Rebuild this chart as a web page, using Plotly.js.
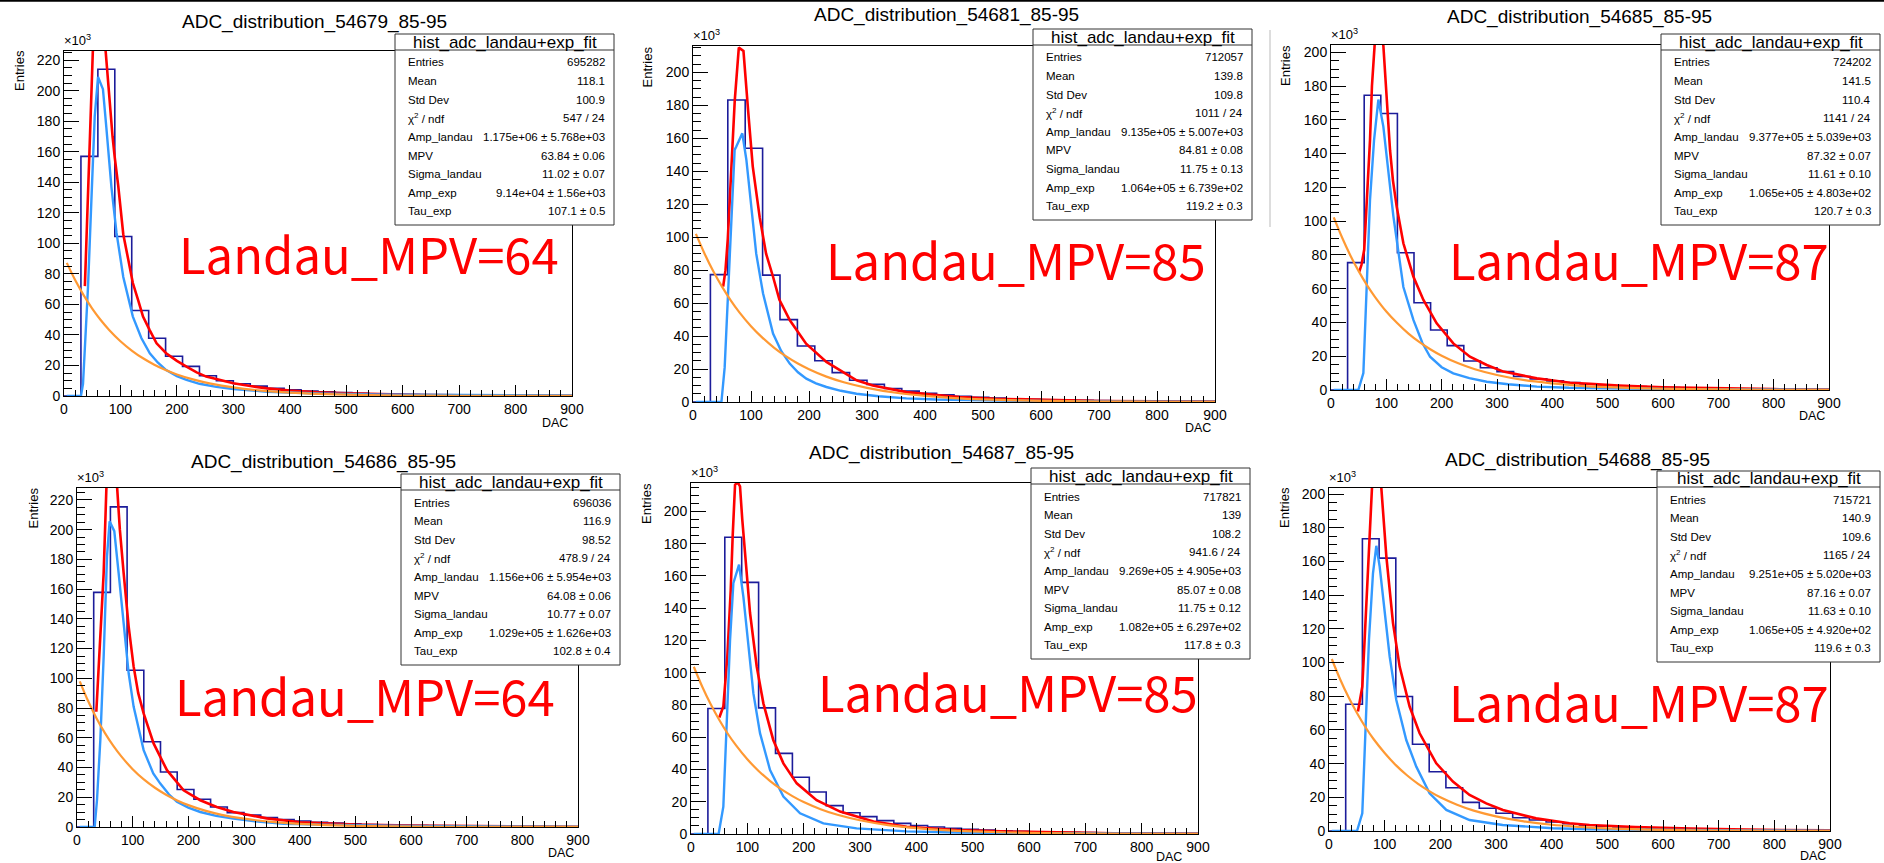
<!DOCTYPE html>
<html><head><meta charset="utf-8">
<script src="https://cdn.plot.ly/plotly-3.0.1.min.js"></script>
<style>html,body{margin:0;padding:0;background:#fff;overflow:hidden}#chart{width:1884px;height:863px}</style>
</head><body><div id="chart"></div>
<script>
// ---------------- DATA (values in units of 10^3 entries) ----------------
const binEdges = [0,30,60,90,120,150,180,210,240,270,300,330,360,390,420,450,480,510,540,570,600,630,660,690,720,750,780,810,840,870,900];
const runs = ['54679','54681','54685','54686','54687','54688'];

const hist_54679 = [0,157,214,104.5,56,37.8,26,19.4,13.3,10,8,6.5,5,4,3.3,2.7,2.2,1.8,1.5,1.2,1.0,0.8,0.7,0.55,0.45,0.4,0.3,0.25,0.2,0.15];
const hist_54681 = [0,77.3,183.2,154,77,50,34,25,17.8,13.2,10.7,8.2,6.6,5.3,4.3,3.5,2.9,2.4,2.0,1.7,1.4,1.2,1.0,0.85,0.7,0.6,0.5,0.45,0.4,0.35];
const hist_54685 = [0,75.4,174.5,163.7,81.3,51.7,35.5,26.3,17.2,13.2,10.9,8,6.6,5.4,4.4,3.6,3.0,2.5,2.0,1.7,1.4,1.2,1.0,0.85,0.7,0.6,0.5,0.45,0.4,0.35];
const hist_54686 = [0,157.8,215.3,105.4,57.3,37,25.2,18.7,13.5,9.7,8,6.4,5,4,3.2,2.6,2.1,1.7,1.4,1.15,0.95,0.8,0.65,0.55,0.45,0.38,0.3,0.25,0.2,0.15];
const hist_54687 = [0,77.8,184,156,78.2,50,35.2,26,17.6,13.2,10.8,8.3,6.6,5.3,4.3,3.5,2.9,2.4,2.0,1.7,1.4,1.2,1.0,0.85,0.7,0.6,0.5,0.45,0.4,0.35];
const hist_54688 = [0,75.2,173.5,162,79.8,51.5,35.2,25.7,17,13.5,10.5,7.9,6.5,5.3,4.3,3.5,2.9,2.4,2.0,1.7,1.4,1.2,1.0,0.85,0.7,0.6,0.5,0.45,0.4,0.35];

// total fit (landau + exp), red
const total_54679_x = [37,42,46,51,56,62,68,74,80,86,90,96,105,113,122,132,140,152,164,181,200,217,235,252,275,300,330,360,400,450,500,560,620,700,800,900];
const total_54679_y = [72,120,170,225,255,262,250,225,195,170,156,138,106,90,74,62,52,43,34.5,28,23,19.2,15.5,12.7,10.5,8.3,6.5,5,3.6,2.4,1.7,1.1,0.75,0.45,0.25,0.15];
const total_54681_x = [52,56,60,66,72,79,84,87,95,103,115,126,138,149,167,195,230,253,282,310,368,425,460,520,600,700,800,900];
const total_54681_y = [70,80,99,143,183,215,214,213,177,143,112,90,76,62,49.6,35.4,24.3,19.2,13.2,10,6,4,3,2,1.2,0.65,0.35,0.2];
const total_54685_x = [51,55,60,64.5,70.5,74,78,82,86,90,94.6,100,106.7,112,118.7,130.8,149,167,191,221,251,281.5,311.6,372,432,468,520,600,700,800,900];
const total_54685_y = [70,74,83,112.5,148,180,207,220,222,218,204,175,142,124,108.6,86.9,67,53.3,39.5,27.6,19.7,14.8,10.9,6.9,4.3,3.6,2.6,1.6,0.9,0.5,0.3];
const total_54686_x = [34.7,38,41.9,45,47.9,52.7,57,62,67,71.8,77,83.8,92.8,101.7,110,119.7,137.6,161.6,191.5,221.4,251,281,341,401,450,500,600,700,800,900];
const total_54686_y = [77.5,100,125.8,149,170.8,227,255,264,255,230,200,170.8,134.8,108,90,76.4,56.2,38.2,24.7,18,13.5,10.1,5.8,3.2,2.2,1.6,0.9,0.5,0.3,0.15];
const total_54687_x = [50.3,57.4,64.5,70.5,74,78.2,83,87,91,96,104.8,116.6,128.5,146,164,187.7,223,264.7,324,383,472,550,650,750,900];
const total_54687_y = [72.2,79,110,151,185,216.5,218,215.5,195,172,137,104,81,58.3,43.8,31.4,21,13.9,7.7,4.5,2.5,1.6,0.9,0.5,0.25];
const total_54688_x = [52,59.8,64,70,74,77.2,81,85,89,94,103,115,126.9,144.8,162.8,192.7,222.6,252.5,282.5,312.4,372,432,468,550,650,750,900];
const total_54688_y = [70.9,85.7,113.5,153,185,203.6,216,220,215,203.6,163,123.4,97.6,73.9,58,40.2,29.3,21.4,16.4,12.5,7.5,4.6,3.6,2.4,1.4,0.8,0.35];

// landau component, light blue
const landau_54679_x = [5,30,33.7,38.4,42.6,48.5,54.4,60.3,64,69,75,84,93,105,122,137,152,166,181,200,217,240,270,300,360,450,550,650,750,900];
const landau_54679_y = [0,0,8,41,72,128,183,209,206,201,176,137,107,78,52,38,28,22,17,13,10.5,8,6,4.6,2.8,1.6,1.0,0.7,0.5,0.3];
const landau_54681_x = [5,49,54.6,60.3,66,71.8,74.7,80.5,85,92,100.6,109,120.7,138,152,166.7,181,195.4,212,230,255,282,320,368,420,500,600,700,800,900];
const landau_54681_y = [0,0,21,62,112,153,155,159,163,147,118,90,66,41.5,31,23.3,18,14.2,11.3,9.1,6.8,5,3.5,2.2,1.5,0.9,0.6,0.4,0.3,0.2];
const landau_54685_x = [5,49.4,58.5,64.5,70.5,77.8,85.6,94.6,103.7,112.7,130.8,148.9,165,179,200,221,250,281.5,320,372,430,500,600,700,800,900];
const landau_54685_y = [0,0,10,57,112.5,148,172,156,128,103,61,41.5,28,19.7,13.5,9.9,7,4.9,3.4,2.0,1.3,0.9,0.55,0.38,0.27,0.2];
const landau_54686_x = [5,31.7,35.9,41.9,47.9,53.9,58.6,62,67,74.8,83.8,92.8,101.7,119.7,137,149.6,165,179.5,200,221.4,250,281,320,371,437,500,600,700,800,900];
const landau_54686_y = [0,0,18,58.4,114.6,182,205.6,203,199,170.8,134.8,103.4,81,51.7,36,29.2,22,16.9,13,10.1,7.5,5.6,3.8,2.2,1.6,1.1,0.7,0.5,0.35,0.25];
const landau_54687_x = [5,49,57.4,63.4,69.3,75.2,81,85.3,93,101.8,110.7,122.5,140.3,164,193.6,235,294,383,472,600,750,900];
const landau_54687_y = [0,0,17,68.7,120,155.5,161.7,167,147,116,87.3,62.5,39.7,23.2,12.8,6.6,3.5,1.6,0.9,0.5,0.3,0.2];
const landau_54688_x = [5,50.3,59.8,65.8,71.8,79,85,91,100,109,120.9,138.8,156.8,180.7,210.7,252.5,312,402,468,550,650,750,900];
const landau_54688_y = [0,0,10.5,60,113.5,153,169.3,157,129.3,103.6,77.8,54,38.2,22.4,12.5,6.5,3.6,1.6,1.0,0.7,0.45,0.3,0.2];

// exponential component, orange
const expX = [5,20,35,50,65,80,100,120,140,160,180,200,230,260,300,350,400,450,500,600,700,800,900];
const exp_54679_y = [87.2,75.8,65.9,57.3,49.8,43.3,35.9,29.8,24.7,20.5,17.0,14.1,10.7,8.1,5.6,3.5,2.2,1.4,0.86,0.34,0.13,0.05,0.02];
const exp_54681_y = [102.0,90.0,79.3,70.0,61.7,54.4,46.0,38.9,32.9,27.8,23.5,19.9,15.4,12.0,8.6,5.6,3.7,2.4,1.6,0.7,0.3,0.13,0.06];
const exp_54685_y = [102.2,90.3,79.7,70.4,62.1,54.9,46.5,39.5,33.4,28.3,24.0,20.3,15.8,12.3,8.9,5.8,3.9,2.5,1.7,0.74,0.32,0.14,0.06];
const exp_54686_y = [98.0,84.7,73.2,63.3,54.7,47.3,38.9,32.0,26.4,21.7,17.9,14.7,11.0,8.2,5.6,3.4,2.1,1.3,0.8,0.3,0.11,0.04,0.02];
const exp_54687_y = [103.7,91.3,80.4,70.8,62.3,54.9,46.3,39.1,33.0,27.8,23.5,19.8,15.4,11.9,8.5,5.5,3.6,2.4,1.6,0.66,0.28,0.12,0.05];
const exp_54688_y = [102.1,90.1,79.5,70.2,61.9,54.6,46.3,39.1,33.1,28.0,23.7,20.0,15.6,12.1,8.7,5.7,3.7,2.5,1.6,0.7,0.31,0.13,0.06];

// stat boxes
const statLabels = ['Entries','Mean','Std Dev','\u03c7<sup>2</sup> / ndf','Amp_landau','MPV','Sigma_landau','Amp_exp','Tau_exp'];
const stats_54679 = ['695282','118.1','100.9','547 / 24','1.175e+06 \u00b1 5.768e+03','63.84 \u00b1 0.06','11.02 \u00b1 0.07','9.14e+04 \u00b1 1.56e+03','107.1 \u00b1 0.5'];
const stats_54681 = ['712057','139.8','109.8','1011 / 24','9.135e+05 \u00b1 5.007e+03','84.81 \u00b1 0.08','11.75 \u00b1 0.13','1.064e+05 \u00b1 6.739e+02','119.2 \u00b1 0.3'];
const stats_54685 = ['724202','141.5','110.4','1141 / 24','9.377e+05 \u00b1 5.039e+03','87.32 \u00b1 0.07','11.61 \u00b1 0.10','1.065e+05 \u00b1 4.803e+02','120.7 \u00b1 0.3'];
const stats_54686 = ['696036','116.9','98.52','478.9 / 24','1.156e+06 \u00b1 5.954e+03','64.08 \u00b1 0.06','10.77 \u00b1 0.07','1.029e+05 \u00b1 1.626e+03','102.8 \u00b1 0.4'];
const stats_54687 = ['717821','139','108.2','941.6 / 24','9.269e+05 \u00b1 4.905e+03','85.07 \u00b1 0.08','11.75 \u00b1 0.12','1.082e+05 \u00b1 6.297e+02','117.8 \u00b1 0.3'];
const stats_54688 = ['715721','140.9','109.6','1165 / 24','9.251e+05 \u00b1 5.020e+03','87.16 \u00b1 0.07','11.63 \u00b1 0.10','1.065e+05 \u00b1 4.920e+02','119.6 \u00b1 0.3'];
const mpvLabels = ['Landau_MPV=64','Landau_MPV=85','Landau_MPV=87','Landau_MPV=64','Landau_MPV=85','Landau_MPV=87'];

// ---------------- LAYOUT GEOMETRY (pixels) ----------------
const W = 1884, H = 863;
const geo = [
  {L:64, R:572, T:51, B:396, ymax:226, title:[180,21.5], box:[395,34,614], land:[176.7,271], ent:[19,71], dac:[572,423]},
  {L:693, R:1215, T:46, B:402, ymax:216, title:[811.7,15.5], box:[1033,29,1252], land:[824,277], ent:[647,67.5], dac:[1215,428]},
  {L:1331, R:1829, T:45, B:390, ymax:204.3, title:[1445,17], box:[1661,34,1880], land:[1446.7,277], ent:[1286,66], dac:[1829,416]},
  {L:77, R:578, T:488, B:827, ymax:228, title:[189,461.7], box:[401,474,620], land:[172.7,713], ent:[32.5,508], dac:[578,853]},
  {L:691, R:1198, T:483, B:834, ymax:217.6, title:[806.7,453.3], box:[1031,468,1250], land:[815.7,709], ent:[646,504], dac:[1186,857]},
  {L:1329, R:1830, T:488, B:831, ymax:203.6, title:[1443,460], box:[1657,471,1880], land:[1446.7,719], ent:[1284,508], dac:[1830,856]}
];
const px = x => x / W;
const py = y => 1 - y / H;

const histByRun = {'54679':hist_54679,'54681':hist_54681,'54685':hist_54685,'54686':hist_54686,'54687':hist_54687,'54688':hist_54688};
const totalByRun = {'54679':[total_54679_x,total_54679_y],'54681':[total_54681_x,total_54681_y],'54685':[total_54685_x,total_54685_y],'54686':[total_54686_x,total_54686_y],'54687':[total_54687_x,total_54687_y],'54688':[total_54688_x,total_54688_y]};
const landauByRun = {'54679':[landau_54679_x,landau_54679_y],'54681':[landau_54681_x,landau_54681_y],'54685':[landau_54685_x,landau_54685_y],'54686':[landau_54686_x,landau_54686_y],'54687':[landau_54687_x,landau_54687_y],'54688':[landau_54688_x,landau_54688_y]};
const expByRun = {'54679':exp_54679_y,'54681':exp_54681_y,'54685':exp_54685_y,'54686':exp_54686_y,'54687':exp_54687_y,'54688':exp_54688_y};
const statsByRun = {'54679':stats_54679,'54681':stats_54681,'54685':stats_54685,'54686':stats_54686,'54687':stats_54687,'54688':stats_54688};

const FONT = 'Liberation Sans, Arial, Helvetica, sans-serif';
const traces = [];
const layout = {
  width: W, height: H, margin: {l:0, r:0, t:0, b:0},
  paper_bgcolor: '#fff', plot_bgcolor: '#fff', showlegend: false,
  annotations: [], shapes: []
};

runs.forEach((run, i) => {
  const g = geo[i];
  const sfx = i === 0 ? '' : String(i + 1);
  const xa = 'x' + sfx, ya = 'y' + sfx;
  const h = histByRun[run];
  traces.push({x: binEdges, y: h.concat([h[h.length-1]]), xaxis: xa, yaxis: ya, mode: 'lines',
    line: {shape: 'hv', color: '#1c1c9a', width: 1.6}, hoverinfo: 'skip'});
  const t = totalByRun[run];
  traces.push({x: t[0], y: t[1], xaxis: xa, yaxis: ya, mode: 'lines', line: {color: '#ff0000', width: 2.6}, hoverinfo: 'skip'});
  const lz = landauByRun[run];
  traces.push({x: lz[0], y: lz[1], xaxis: xa, yaxis: ya, mode: 'lines', line: {color: '#3399ff', width: 2.4}, hoverinfo: 'skip'});
  traces.push({x: expX, y: expByRun[run], xaxis: xa, yaxis: ya, mode: 'lines', line: {color: '#ff9933', width: 2.2, shape: 'spline'}, hoverinfo: 'skip'});

  layout['xaxis' + sfx] = {
    domain: [px(g.L), px(g.R)], anchor: ya, range: [0, 900], fixedrange: true,
    tickmode: 'linear', tick0: 0, dtick: 100, ticks: 'inside', ticklen: 11, tickwidth: 1, tickcolor: '#000',
    minor: {dtick: 20, ticks: 'inside', ticklen: 6, tickwidth: 1, tickcolor: '#000', showgrid: false},
    showline: true, linecolor: '#000', linewidth: 1, mirror: true, showgrid: false, zeroline: false,
    tickfont: {family: FONT, size: 14, color: '#000'}
  };
  layout['yaxis' + sfx] = {
    domain: [py(g.B), py(g.T)], anchor: xa, range: [0, g.ymax], fixedrange: true,
    tickmode: 'linear', tick0: 0, dtick: 20, ticks: 'inside', ticklen: 15, tickwidth: 1, tickcolor: '#000',
    minor: {dtick: 5, ticks: 'inside', ticklen: 8, tickwidth: 1, tickcolor: '#000', showgrid: false},
    showline: true, linecolor: '#000', linewidth: 1, mirror: true, showgrid: false, zeroline: false,
    tickfont: {family: FONT, size: 14, color: '#000'}, ticklabelstandoff: 0
  };

  const A = layout.annotations, S = layout.shapes;
  A.push({xref:'paper', yref:'paper', x: px(g.title[0]), y: py(g.title[1]), xanchor:'left', yanchor:'middle', showarrow:false,
    text: 'ADC_distribution_' + run + '_85-95', font:{family: FONT, size: 19, color:'#000'}});
  A.push({xref:'paper', yref:'paper', x: px(g.L - 2), y: py(g.T - 1), xanchor:'left', yanchor:'bottom', showarrow:false,
    text: '\u00d710<sup>3</sup>', font:{family: FONT, size: 13, color:'#000'}});
  A.push({xref:'paper', yref:'paper', x: px(g.ent[0]), y: py(g.ent[1]), xanchor:'center', yanchor:'middle', textangle:-90, showarrow:false,
    text: 'Entries', font:{family: FONT, size: 13, color:'#000'}});
  A.push({xref:'paper', yref:'paper', x: px(g.dac[0] - 2), y: py(g.dac[1]), xanchor:'right', yanchor:'middle', showarrow:false,
    text: 'DAC', font:{family: FONT, size: 12.5, color:'#000'}});
  A.push({xref:'paper', yref:'paper', x: px(g.land[0]), y: py(g.land[1] - 19), xanchor:'left', yanchor:'middle', showarrow:false,
    text: mpvLabels[i], font:{family: 'Noto Sans CJK JP, Noto Sans, sans-serif', size: 49, color:'#ff0000'}});
  const bx0 = g.box[0], by0 = g.box[1], bx1 = g.box[2];
  const rowH = 18.6, by1 = by0 + 191;
  S.push({type:'rect', xref:'paper', yref:'paper', x0: px(bx0), x1: px(bx1), y0: py(by0), y1: py(by1),
    line:{color:'#333', width:1}, fillcolor:'#fff', layer:'above'});
  S.push({type:'line', xref:'paper', yref:'paper', x0: px(bx0), x1: px(bx1), y0: py(by0 + 16), y1: py(by0 + 16),
    line:{color:'#333', width:1}, layer:'above'});
  A.push({xref:'paper', yref:'paper', x: px((bx0 + bx1) / 2), y: py(by0 + 8), xanchor:'center', yanchor:'middle', showarrow:false,
    text: 'hist_adc_landau+exp_fit', font:{family: FONT, size: 17, color:'#000'}});
  const vals = statsByRun[run];
  statLabels.forEach((lab, k) => {
    const yy = by0 + 28.5 + k * rowH;
    A.push({xref:'paper', yref:'paper', x: px(bx0 + 11), y: py(yy), xanchor:'left', yanchor:'middle', showarrow:false,
      text: lab, font:{family: FONT, size: 11.5, color:'#000'}});
    A.push({xref:'paper', yref:'paper', x: px(bx1 - 7), y: py(yy), xanchor:'right', yanchor:'middle', showarrow:false,
      text: vals[k], font:{family: FONT, size: 11.5, color:'#000'}});
  });
});

layout.shapes.push({type:'line', xref:'paper', yref:'paper', x0:0, x1:1, y0:py(0.8), y1:py(0.8), line:{color:'#000', width:2}});
layout.shapes.push({type:'line', xref:'paper', yref:'paper', x0:px(1270), x1:px(1270), y0:py(30), y1:py(227), line:{color:'#bbb', width:1}});

Plotly.newPlot('chart', traces, layout, {displayModeBar: false, staticPlot: true});
</script>
</body></html>
